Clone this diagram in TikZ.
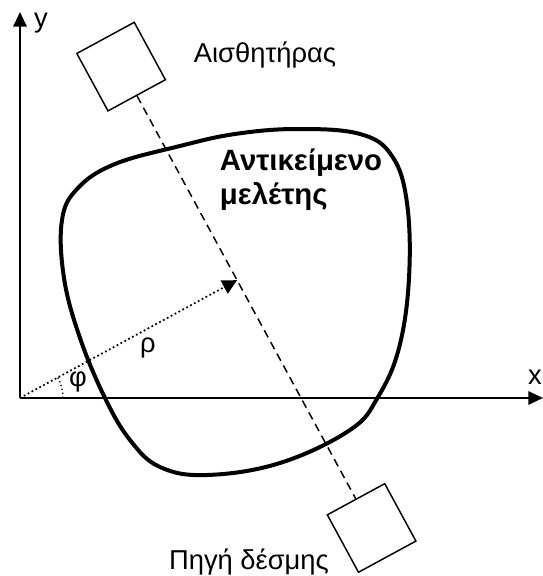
\documentclass[tikz,border=0pt]{standalone}
\usepackage{fontspec}
\setmainfont{Liberation Sans}
\usetikzlibrary{arrows.meta}
\usetikzlibrary{calc}

\tikzset{
  axisline/.style={line width=1.5pt,-{Triangle[length=11pt,width=10pt]}},
  boxnode/.style={draw,rectangle,line width=1.1pt,minimum size=49pt,inner sep=0pt,rotate=28.5},
  lbl/.style={font=\fontsize{20.5}{24}\selectfont},
}

\begin{document}
\begin{tikzpicture}[x=0.75pt,y=0.75pt]
\useasboundingbox (-20,-178) rectangle (523,398);
\coordinate (O) at (0,0);
\coordinate (xend) at (523,0);
\coordinate (yend) at (0,386);
\coordinate (P) at (28.5:247);

\draw[axisline] (O) -- (xend);
\draw[axisline] (O) -- (yend);
\node[lbl] (xlab) at (515,21) {x};
\node[lbl] (ylab) at (21,375) {y};

\draw[line width=3pt] plot[smooth cycle,tension=0.65] coordinates {
(277,269) (340,264) (372,242) (387,195) (389,120) (379,50) (358,1) (330,-32)
(260,-65) (187,-77) (140,-69) (110,-42) (85,0) (60,60) (44,120) (42,178)
(58,210) (95,234) (160,252) (215,264)};

\node[boxnode] (sensor) at ($(P)+(118.5:243)$) {};
\node[boxnode] (source) at ($(P)+(-61.5:282)$) {};
\draw[line width=1.1pt,dash pattern=on 6pt off 4pt] (sensor) -- (source);

\draw[dotted,line width=1.3pt,-{Triangle[length=11pt,width=11pt]}] (O) -- (P);
\draw[dotted,line width=1pt] (43,0) arc (0:28.5:43);
\node[lbl] (rho) at (128,50) {ρ};
\node[lbl] (phi) at (58,16) {φ};

\node[lbl] (sensorlab) at (245,343) {Αισθητήρας};
\node[lbl] (sourcelab) at (229,-164) {Πηγή δέσμης};
\node[font=\fontsize{22}{25.5}\selectfont\bfseries,align=left] (objlab) at (281,218) {Αντικείμενο\\μελέτης};

\end{tikzpicture}
\end{document}
